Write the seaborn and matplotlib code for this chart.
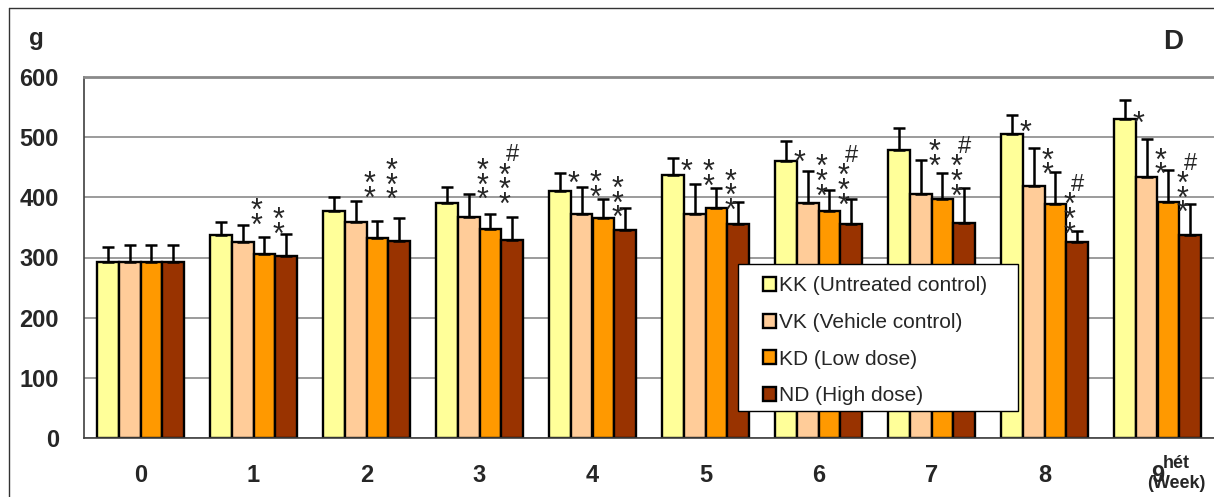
import numpy as np
import pandas as pd
import matplotlib
matplotlib.use("Agg")
import matplotlib.pyplot as plt
from matplotlib.lines import Line2D
from matplotlib.patches import Rectangle
import seaborn as sns

# Body weight (g) per week, mean and SD, for the four treatment groups
weeks = ["0", "1", "2", "3", "4", "5", "6", "7", "8", "9"]
groups = ["KK (Untreated control)", "VK (Vehicle control)",
          "KD (Low dose)", "ND (High dose)"]

kk_mean = [293, 337, 378, 390, 411, 437, 461, 478, 506, 530]
kk_sd = [25, 22, 23, 27, 30, 28, 33, 37, 31, 31]
vk_mean = [292, 325, 359, 367, 373, 373, 391, 405, 419, 434]
vk_sd = [28, 29, 35, 38, 44, 49, 52, 57, 63, 63]
kd_mean = [292, 306, 333, 347, 366, 383, 377, 397, 389, 392]
kd_sd = [29, 28, 28, 25, 31, 32, 36, 43, 53, 53]
nd_mean = [293, 302, 327, 329, 346, 356, 355, 358, 325, 337]
nd_sd = [27, 37, 38, 39, 37, 37, 42, 58, 19, 52]

colors = ["#FFFF99", "#FFCC99", "#FF9900", "#993300"]

# Significance marks: week, group index, symbols, height of the top symbol (g)
annot_week = [1, 1, 2, 2, 3, 3, 4, 4, 4, 5, 5, 5, 6, 6, 6, 7, 7, 8, 8, 8, 9, 9, 9]
annot_group = [2, 3, 2, 3, 2, 3, 1, 2, 3, 1, 2, 3, 1, 2, 3, 2, 3, 1, 2, 3, 1, 2, 3]
annot_text = ["**", "**", "**", "***", "***", "#***", "*", "**", "***",
              "*", "**", "***", "*", "***", "#***", "**", "#***",
              "*", "**", "#***", "*", "**", "#***"]
annot_y = [392, 377, 437, 459, 459, 451, 437, 439, 429, 457, 457, 441,
           473, 465, 450, 490, 465, 523, 476, 402, 538, 476, 437]

means = [kk_mean, vk_mean, kd_mean, nd_mean]
sds = [kk_sd, vk_sd, kd_sd, nd_sd]
df = pd.DataFrame({
    "week": np.tile(weeks, len(groups)),
    "group": np.repeat(groups, len(weeks)),
    "mean": np.concatenate(means),
    "sd": np.concatenate(sds),
})

sns.set_style("white")
plt.rcParams["font.family"] = ["Liberation Sans", "DejaVu Sans"]

W, H = 1214, 497
fig = plt.figure(figsize=(W / 100, H / 100), dpi=100)
ax = fig.add_axes([84 / W, 59 / H, 1130 / W, 361 / H])

sns.barplot(data=df, x="week", y="mean", hue="group", hue_order=groups,
            order=weeks, palette=colors, width=0.77, errorbar=None,
            edgecolor="black", linewidth=1.7, saturation=1, ax=ax, zorder=2)

# Upper error bars placed on the drawn bars
bars = {}
bar_containers = list(ax.containers)
for gi, cont in enumerate(bar_containers):
    for wi, patch in enumerate(cont.patches):
        bars[(wi, gi)] = patch
    xs = [p.get_x() + p.get_width() / 2 for p in cont.patches]
    hs = [p.get_height() for p in cont.patches]
    err = sds[gi]
    ax.errorbar(xs, hs, yerr=[np.zeros(len(err)), err], fmt="none",
                ecolor="black", elinewidth=1.8, capsize=4, capthick=1.8,
                zorder=3)

# Stacked significance symbols (one text per stack)
star_fs = 22
hash_fs = 17
for w, g, txt, y in zip(annot_week, annot_group, annot_text, annot_y):
    p = bars[(w, g)]
    x = p.get_x()
    n = len(txt.replace("#", ""))
    ax.annotate("\n".join(["*"] * n), (x, y), xytext=(2, 0.16 * star_fs),
                textcoords="offset points", ha="center", va="top",
                fontsize=star_fs, linespacing=0.33, zorder=4)
    if "#" in txt:
        ax.annotate("#", (x, y), xytext=(8, 10 - 0.36 * hash_fs),
                    textcoords="offset points", ha="center", va="baseline",
                    fontsize=hash_fs, zorder=4)

ax.set_ylim(0, 600)
ax.set_xlim(-0.5, len(weeks) - 0.5)
ax.set_yticks(range(0, 601, 100))
ax.set_xticks(range(len(weeks)))
ax.set_xticklabels(weeks)
ax.set_xticks(np.arange(-0.5, len(weeks), 1), minor=True)
ax.set_xlabel("")
ax.set_ylabel("")
ax.yaxis.grid(True, color="#8a8a8a", lw=1.2)
ax.set_axisbelow(True)

ax.tick_params(axis="y", which="major", length=6, width=1, color="#404040",
               pad=12, labelsize=17)
ax.tick_params(axis="x", which="major", length=0, pad=19, labelsize=17)
ax.tick_params(axis="x", which="minor", length=6, width=1, color="#404040")
for lab in ax.get_xticklabels() + ax.get_yticklabels():
    lab.set_fontweight("bold")

ax.spines["right"].set_visible(False)
ax.spines["top"].set_color("#8a8a8a")
ax.spines["top"].set_linewidth(2)
ax.spines["left"].set_color("#404040")
ax.spines["bottom"].set_color("#404040")
ax.spines["left"].set_linewidth(1.2)
ax.spines["bottom"].set_linewidth(1.2)

# Legend: white box drawn over the bars, entries placed inside it
ax.add_patch(Rectangle((0.5788, 0.0748), 0.2477, 0.4072,
                       transform=ax.transAxes, facecolor="white",
                       edgecolor="black", lw=1, zorder=9, clip_on=False))
handles, labels = ax.get_legend_handles_labels()
leg = ax.legend(handles[:len(groups)], labels[:len(groups)], loc="upper left",
                bbox_to_anchor=(0.6005, 0.448), fontsize=15,
                frameon=False, handlelength=0.65, handleheight=0.65,
                handletextpad=0.15, labelspacing=0.85, borderpad=0,
                borderaxespad=0)
leg.set_zorder(10)

# Figure-level labels and border
fig.text(36 / W, 1 - 39 / H, "g", ha="center", va="center",
         fontsize=17.5, fontweight="bold")
fig.text(1173 / W, 1 - 42 / H, "D", ha="center", va="center",
         fontsize=20, fontweight="bold")
fig.text(1176 / W, 1 - 463 / H, "hét", ha="center", va="center",
         fontsize=13, fontweight="bold")
fig.text(1176 / W, 1 - 484 / H, "(Week)", ha="center", va="center",
         fontsize=13, fontweight="bold")
fig.add_artist(Line2D([8.5 / W, 8.5 / W], [0, 1 - 7.5 / H],
                      transform=fig.transFigure, color="#333333", lw=1))
fig.add_artist(Line2D([8.5 / W, 1], [1 - 7.5 / H, 1 - 7.5 / H],
                      transform=fig.transFigure, color="#333333", lw=1))

fig.savefig("out.png", dpi=100)
